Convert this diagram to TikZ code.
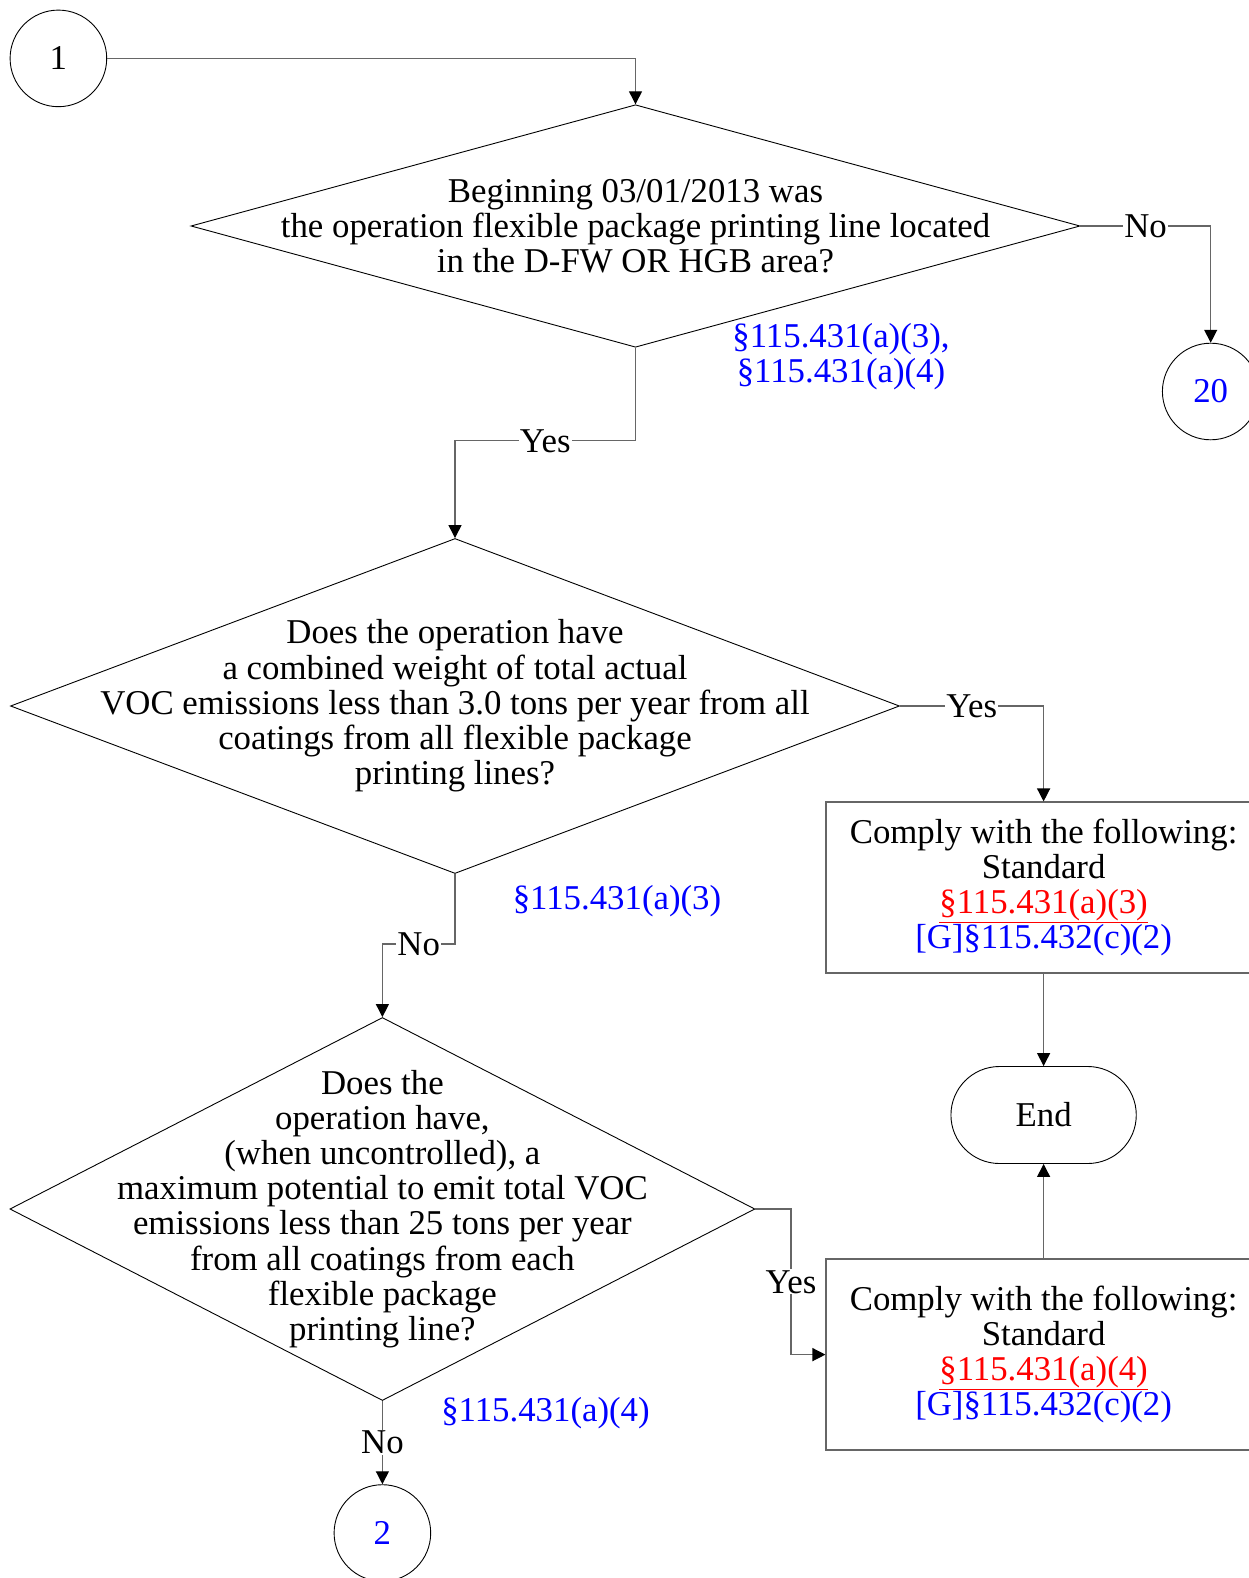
\documentclass[tikz,border=0pt]{standalone}
\usepackage{fontspec}
\setmainfont{Liberation Serif}
\usetikzlibrary{shapes.geometric,shapes.misc,arrows.meta}
\definecolor{refblue}{RGB}{0,0,255}
\definecolor{refred}{RGB}{255,0,0}
\newcommand{\stdref}[1]{\textcolor{refred}{\underline{#1}}}
\newcommand{\grpref}[1]{\textcolor{refblue}{#1}}

\begin{document}
\begin{tikzpicture}[x=1pt,y=-1pt,
   every node/.style={font=\fontsize{34.8}{35.2}\selectfont},
   decision/.style={draw,diamond,inner sep=0pt,line width=0.9pt},
   qtext/.style={align=center,inner sep=0pt},
   actionbox/.style={draw=black!60,line width=1.3pt,minimum width=435pt,align=center},
   offpage/.style={draw,circle,minimum size=96.6pt,inner sep=0pt,line width=0.9pt},
   terminal/.style={draw,rounded rectangle,minimum width=192pt,minimum height=97pt,line width=0.9pt},
   flow/.style={draw=black!60,line width=1.3pt,-{Triangle[length=13pt,width=13pt,color=black]}},
   answer/.style={fill=white,inner sep=1pt},
   citation/.style={text=refblue,align=center,inner sep=0pt}]
\useasboundingbox (0,0) rectangle (1248,1578);

% connectors and decisions
\node[offpage] (c1) at (58.4,58.4) {1};
\node[decision,minimum width=889pt,minimum height=242.5pt] (d1) at (635.5,226) {};
\node[qtext] (d1t) at (d1) {Beginning 03/01/2013 was\\the operation flexible package printing line located\\in the D-FW OR HGB area?};
\node[citation] (d1r) at (841,357) {§115.431(a)(3),\\§115.431(a)(4)};
\node[offpage,text=refblue] (c20) at (1210.7,391.5) {20};

\node[decision,minimum width=889pt,minimum height=335pt] (d2) at (455,706) {};
\node[qtext] (d2t) at (d2) {Does the operation have\\a combined weight of total actual\\VOC emissions less than 3.0 tons per year from all\\coatings from all flexible package\\printing lines?};
\node[citation] (d2r) at (617,900.7) {§115.431(a)(3)};

\node[decision,minimum width=745pt,minimum height=383pt] (d3) at (382.4,1209) {};
\node[qtext] (d3t) at (d3) {Does the\\operation have,\\(when uncontrolled), a\\maximum potential to emit total VOC\\emissions less than 25 tons per year\\from all coatings from each\\flexible package\\printing line?};
\node[citation] (d3r) at (545.5,1413) {§115.431(a)(4)};
\node[offpage,text=refblue] (c2) at (382.4,1533) {2};

% actions
\node[actionbox,minimum height=171pt] (a1) at (1043.6,887.6) {Comply with the following:\\Standard\\\stdref{§115.431(a)(3)}\\\grpref{[G]§115.432(c)(2)}};
\node[terminal] (end) at (1043.6,1115) {End};
\node[actionbox,minimum height=191pt] (a2) at (1043.6,1354.6) {Comply with the following:\\Standard\\\stdref{§115.431(a)(4)}\\\grpref{[G]§115.432(c)(2)}};

\coordinate (j1) at (455,440.8);
\coordinate (j2) at (382.4,944);
\coordinate (j3) at (791,1209);

\draw[flow] (c1.east) -| (d1.north);
\draw[flow] (d1.east) -| node[answer,pos=0.25]{No} (c20.north);
\draw[flow] (d1.south) |- node[answer,pos=0.75]{Yes} (j1) -- (d2.north);
\draw[flow] (d2.east) -| node[answer,pos=0.25]{Yes} (a1.north);
\draw[flow] (d2.south) |- node[answer,pos=0.75]{No} (j2) -- (d3.north);
\draw[flow] (d3.east) -- (j3) |- node[answer,pos=0.25]{Yes} (a2.west);
\draw[flow] (d3.south) -- node[answer]{No} (c2.north);
\draw[flow] (a1.south) -- (end.north);
\draw[flow] (a2.north) -- (end.south);
\end{tikzpicture}
\end{document}
